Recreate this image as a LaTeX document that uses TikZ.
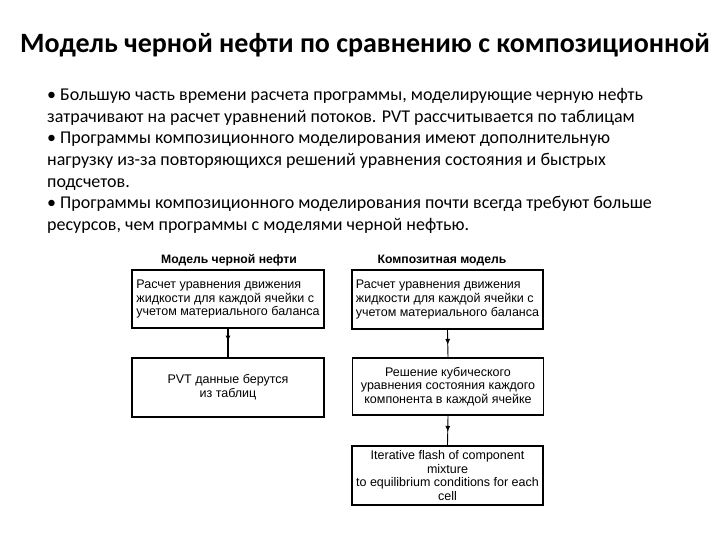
\documentclass[tikz,border=0pt]{standalone}
\usepackage{fontspec}
\setmainfont{Carlito}
\newfontfamily\arialf{Liberation Sans}
\usetikzlibrary{arrows.meta,decorations.markings}
\begin{document}
\begin{tikzpicture}[x=1pt,y=-1pt,
  flowbox/.style={draw,line width=#1,minimum width=191pt,minimum height=58pt,inner sep=3pt,
    font=\arialf\fontsize{12.5}{13.8}\selectfont},
  flowbox/.default=1.8pt,
  hdr/.style={anchor=base,font=\arialf\bfseries\fontsize{12.2}{14}\selectfont},
  midarrow/.style={postaction={decorate},decoration={markings,
    mark=at position #1 with {\arrow{Latex[length=6pt,width=5pt]}}}}
]
\useasboundingbox (0,0) rectangle (720,540);
\fill[white] (0,0) rectangle (720,540);

\node[anchor=base,font=\bfseries\fontsize{28}{32}\selectfont] (title) at (365,53) {Модель черной нефти по сравнению с композиционной};

\node[anchor=base west,align=left,inner sep=0pt,font=\fontsize{18}{21.7}\selectfont] (bullets) at (47,230.7)
{• Большую часть времени расчета программы, моделирующие черную нефть\\
затрачивают на расчет уравнений потоков. PVT рассчитывается по таблицам\\
• Программы композиционного моделирования имеют дополнительную\\
нагрузку из-за повторяющихся решений уравнения состояния и быстрых\\
подсчетов.\\
• Программы композиционного моделирования почти всегда требуют больше\\
ресурсов, чем программы с моделями черной нефтью.};

\node[hdr] (hL) at (229,263) {Модель черной нефти};
\node[hdr] (hR) at (442,263) {Композитная модель};

\node[flowbox,minimum width=192pt,align=left] (L1) at (228,299) {Расчет уравнения движения\\жидкости для каждой ячейки с\\учетом материального баланса};
\node[flowbox,minimum width=192pt,minimum height=59pt,align=center] (L2) at (228,387.5) {PVT данные берутся\\из таблиц};

\node[flowbox,minimum height=59pt,align=left] (R1) at (447.5,299.5) {Расчет уравнения движения\\жидкости для каждой ячейки с\\учетом материального баланса};
\node[flowbox=1.4pt,minimum height=57pt,align=center] (R2) at (448,386.5) {Решение кубического\\уравнения состояния каждого\\компонента в каждой ячейке};
\node[flowbox=1.4pt,minimum height=59pt,align=center] (R3) at (447.5,475.5) {Iterative flash of component\\mixture\\to equilibrium conditions for each\\cell};

\draw[line width=2pt,midarrow=0.45] (L1.south) -- (L2.north);
\draw[line width=0.9pt,midarrow=0.55] (R1.south) -- (R2.north);
\draw[line width=0.9pt,midarrow=0.55] (R2.south) -- (R3.north);
\end{tikzpicture}
\end{document}
